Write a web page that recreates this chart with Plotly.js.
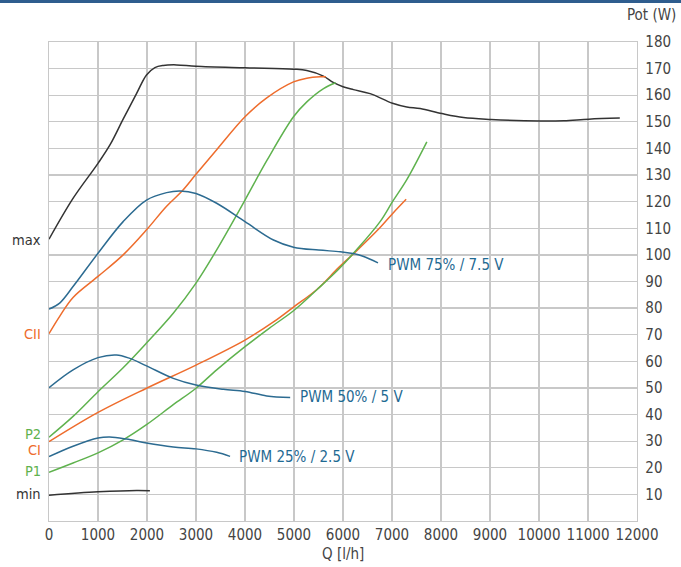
<!DOCTYPE html>
<html>
<head>
<meta charset="utf-8">
<script src="https://cdn.plot.ly/plotly-3.0.1.min.js"></script>
<style>
html,body{margin:0;padding:0;background:#fff;}
#bar{position:absolute;left:0;top:0;width:681px;height:3px;background:#2f5d8e;z-index:10;}
#chart{width:681px;height:567px;}
</style>
</head>
<body>
<div id="bar"></div>
<div id="chart"></div>
<script>
// ---- data ----
const maxX = [0, 500, 1000, 1250, 1513, 1786, 1990, 2161, 2331, 2604, 3000, 4000, 4990, 5262, 5600, 5800, 6000, 6213, 6553, 7010, 7302, 7575, 8018, 8460, 9019, 10014, 10504, 11015, 11649];
const maxY = [105.9, 121.5, 134.4, 141.5, 151.0, 160.6, 167.6, 170.4, 171.2, 171.4, 170.9, 170.3, 169.8, 169.3, 167.2, 164.8, 163.2, 162.1, 160.6, 157.0, 155.6, 155.0, 153.1, 151.6, 150.9, 150.3, 150.4, 151.0, 151.4];

const minX = [0, 1000, 1786, 2059];
const minY = [9.7, 10.95, 11.5, 11.4];

const ciiX = [0, 218, 491, 1000, 1513, 1990, 2400, 2706, 3000, 3422, 4000, 4444, 4990, 5262, 5535, 5650];
const ciiY = [70.4, 76.9, 84.0, 91.9, 100.0, 109.4, 118.3, 123.8, 130.3, 139.5, 151.9, 159.0, 165.0, 166.4, 166.9, 166.9];

const ciX = [0, 1000, 1990, 3000, 4000, 4581, 4990, 5467, 5910, 6281, 6757, 7010, 7289];
const ciY = [29.8, 40.8, 49.9, 58.6, 68.0, 74.8, 80.4, 87.0, 95.2, 101.6, 110.3, 115.5, 120.9];

const p2X = [0, 491, 1000, 1513, 1990, 2536, 3000, 3422, 4000, 4444, 4990, 5262, 5603, 5850];
const p2Y = [31.5, 39.3, 48.6, 57.6, 66.9, 78.1, 89.4, 101.9, 120.6, 135.4, 151.9, 157.5, 162.5, 164.7];

const p1X = [0, 491, 1000, 1513, 1990, 2536, 3000, 3422, 4000, 4500, 4990, 5467, 5910, 6281, 6757, 7010, 7302, 7711];
const p1Y = [18.3, 21.8, 25.6, 30.5, 36.2, 43.7, 49.9, 56.8, 65.5, 72.5, 79.0, 86.9, 94.6, 102.0, 112.5, 120.0, 128.3, 142.5];

const pwm75X = [0, 218, 491, 1000, 1513, 1990, 2400, 2672, 3000, 3422, 4000, 4581, 4990, 5500, 5944, 6204, 6408, 6714];
const pwm75Y = [79.6, 81.9, 88.1, 100.6, 112.5, 120.6, 123.4, 124.0, 123.1, 119.4, 112.5, 105.6, 102.9, 101.8, 101.2, 100.5, 99.5, 97.0];

const pwm50X = [0, 491, 1000, 1377, 1650, 1990, 2536, 3000, 3558, 4000, 4444, 4922];
const pwm50Y = [50.1, 56.8, 61.4, 62.4, 61.1, 58.3, 53.6, 51.1, 49.5, 48.7, 47.0, 46.4];

const pwm25X = [0, 491, 1000, 1240, 1581, 1990, 2536, 3000, 3422, 3695];
const pwm25Y = [24.2, 28.1, 31.2, 31.6, 30.8, 29.3, 27.8, 27.1, 25.8, 24.3];

const xTicks = [0,1000,2000,3000,4000,5000,6000,7000,8000,9000,10000,11000,12000];
const yTicks = [10,20,30,40,50,60,70,80,90,100,110,120,130,140,150,160,170,180];

const leftLabels = ["max", "CII", "P2", "CI", "P1", "min"];
const leftLabelY = [105.5, 70.2, 32.8, 26.6, 18.8, 10.1];
const pwmLabels = ["PWM 75% / 7.5 V", "PWM 50% / 5 V", "PWM 25% / 2.5 V"];
const pwmLabelX = [6870, 5080, 3830];
const pwmLabelY = [96.1, 46.6, 24.0];

// ---- styles ----
const BLACK = "#333333", ORANGE = "#ee6c2c", GREEN = "#5fb24e", BLUE = "#2c6b91";
const FONT = "'DejaVu Sans Condensed', 'Liberation Sans Narrow', Roboto, sans-serif";
const leftColors = [BLACK, ORANGE, GREEN, ORANGE, GREEN, BLACK];

function tr(x, y, c) {
  return {x: x, y: y, type: "scatter", mode: "lines",
    line: {color: c, width: 1.5, shape: "spline", smoothing: 1.0},
    hoverinfo: "skip", showlegend: false};
}

const data = [
  tr(maxX, maxY, BLACK), tr(minX, minY, BLACK),
  tr(ciiX, ciiY, ORANGE), tr(ciX, ciY, ORANGE),
  tr(p2X, p2Y, GREEN), tr(p1X, p1Y, GREEN),
  tr(pwm75X, pwm75Y, BLUE), tr(pwm50X, pwm50Y, BLUE), tr(pwm25X, pwm25Y, BLUE)
];

const annotations = [];
leftLabels.forEach((t, i) => annotations.push({
  text: t, xref: "paper", x: 0, xanchor: "right", xshift: -6,
  yref: "y", y: leftLabelY[i], yanchor: "middle", showarrow: false,
  font: {family: FONT, size: 14.5, color: leftColors[i]}
}));
pwmLabels.forEach((t, i) => annotations.push({
  text: t, xref: "x", x: pwmLabelX[i], xanchor: "left",
  yref: "y", y: pwmLabelY[i], yanchor: "middle", showarrow: false,
  font: {family: FONT, size: 15, color: "#1f6a93"}
}));
annotations.push({text: "Pot (W)", xref: "paper", x: 1.0697, xanchor: "right",
  yref: "paper", y: 1.0565, yanchor: "middle", showarrow: false,
  font: {family: FONT, size: 15, color: "#444"}});
annotations.push({text: "Q [l/h]", xref: "paper", x: 0.5, xanchor: "center",
  yref: "paper", y: -0.068, yanchor: "middle", showarrow: false,
  font: {family: FONT, size: 15, color: "#444"}});

const layout = {
  width: 681, height: 567,
  margin: {l: 49, r: 44, t: 42, b: 46},
  paper_bgcolor: "#fff", plot_bgcolor: "#fff",
  font: {family: FONT, size: 15, color: "#444"},
  xaxis: {range: [0, 12000], tickvals: xTicks, ticktext: xTicks.map(String),
    showgrid: true, gridcolor: "#c8c8c8", gridwidth: 1.3, zeroline: false,
    showline: true, linecolor: "#c8c8c8", linewidth: 1.3, mirror: true,
    ticks: "", tickfont: {family: FONT, size: 15, color: "#444"}, fixedrange: true},
  yaxis: {range: [0, 180], side: "right", tickvals: yTicks, ticktext: yTicks.map(String),
    showgrid: true, gridcolor: "#c8c8c8", gridwidth: 1.3, zeroline: false,
    showline: true, linecolor: "#c8c8c8", linewidth: 1.3, mirror: true,
    ticks: "", ticklabelstandoff: 4, tickfont: {family: FONT, size: 15, color: "#444"}, fixedrange: true},
  annotations: annotations
};

Plotly.newPlot("chart", data, layout, {displayModeBar: false, staticPlot: true});
</script>
</body>
</html>
